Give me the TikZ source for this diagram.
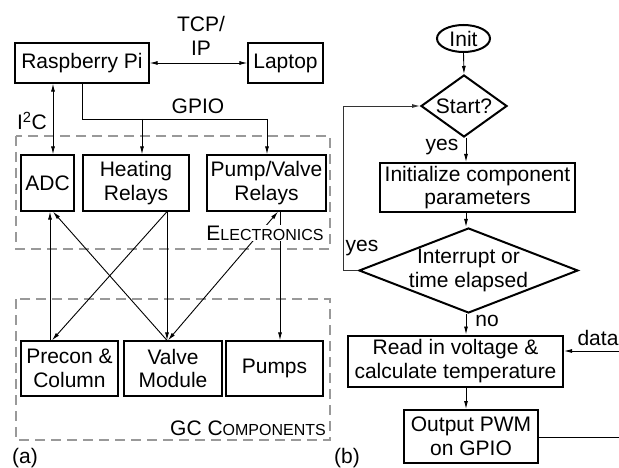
\documentclass[tikz,border=0pt]{standalone}
\usepackage{fontspec}
\setmainfont{Liberation Sans}
\usetikzlibrary{arrows.meta,shapes.geometric,calc}
\newcommand\fsz{\fontsize{21}{23.5}\selectfont}
\newcommand\fsm{\fontsize{16}{18}\selectfont}
\begin{document}
\begin{tikzpicture}[x=1pt,y=-1pt,
  every node/.style={font=\fsz, inner sep=0pt, align=center},
  boxa/.style={draw, line width=1.3pt, rectangle},
  boxb/.style={draw, line width=2pt, rectangle},
  arr/.style={line width=0.9pt, -{Latex[length=8pt,width=4pt]}},
  darr/.style={line width=0.9pt, {Latex[length=8pt,width=4pt]}-{Latex[length=8pt,width=4pt]}},
  ln/.style={line width=0.9pt},
  grp/.style={draw=black!40, line width=2.5pt, dash pattern=on 10pt off 6pt},
  lbl/.style={font=\fsz}
]
\useasboundingbox (0,0) rectangle (619,468);

% ---------- (a) ----------
\draw[grp] (16,136) rectangle (330,249);
\draw[grp] (16,299) rectangle (330,440);

\node[boxa, minimum width=134, minimum height=40] (rpi) at (82,63) {Raspberry Pi};
\node[boxa, minimum width=75, minimum height=40] (laptop) at (285.5,63) {Laptop};
\node[boxa, minimum width=53, minimum height=56] (adc) at (47.5,183) {ADC};
\node[boxa, minimum width=106, minimum height=56] (heat) at (136,183) {Heating\\Relays};
\node[boxa, minimum width=119, minimum height=56] (pvr) at (266.5,183) {Pump/Valve\\Relays};
\node[boxa, minimum width=97, minimum height=55] (precon) at (69.5,368.5) {Precon \&\\Column};
\node[boxa, minimum width=98, minimum height=55] (valve) at (173,368.5) {Valve\\Module};
\node[boxa, minimum width=97, minimum height=55] (pumps) at (274.5,368.5) {Pumps};

\node (tcp) at (201,36) {TCP/\\IP};
\node (gpio) at (198,106) {GPIO};
\node (i2c) at (32,121) {I\textsuperscript{2}C};

\draw[darr] (rpi.east) -- (laptop.west);
\draw[darr] (53,0 |- rpi.south) -- (53,0 |- adc.north);
\draw[ln] (82,0 |- rpi.south) |- (267,119) coordinate (gend);
\coordinate (gsplit) at (142,119);
\draw[arr] (gsplit) -- (142,0 |- heat.north);
\draw[arr] (gend) -- (267,0 |- pvr.north);

\draw[arr] (50,0 |- precon.north) -- (50,0 |- adc.south);
\draw[arr] (167,0 |- valve.north) -- (53,0 |- adc.south);
\draw[arr] (167,0 |- heat.south) -- (52,0 |- precon.north);
\draw[arr] (167,0 |- heat.south) -- (167,0 |- valve.north);
\draw[darr] (278,0 |- pvr.south) -- (168,0 |- valve.north);
\draw[arr] (280,0 |- pvr.south) -- (280,0 |- pumps.north);

\node[fill=white, inner sep=1pt] (elec) at (265,233) {E{\fsm LECTRONICS}};
\node (gcc) at (248,428) {GC C{\fsm OMPONENTS}};
\node[anchor=base] (la) at (25,463) {(a)};

% ---------- (b) ----------
\node[draw, ellipse, line width=2pt, minimum width=53, minimum height=27] (init) at (463.5,38.5) {Init};
\node[draw, diamond, line width=2pt, minimum width=86, minimum height=62, label=center:Start?] (start) at (464,106) {};
\node[boxb, minimum width=195, minimum height=49] (initp) at (477.5,187.5) {Initialize component\\parameters};
\node[draw, diamond, line width=2pt, minimum width=219, minimum height=85, label={[align=center]center:Interrupt or\\time elapsed}] (intr) at (468.5,270.5) {};
\node[boxb, minimum width=215, minimum height=51] (read) at (455.5,361) {Read in voltage \&\\calculate temperature};
\node[boxb, minimum width=134, minimum height=53] (out) at (471,436.5) {Output PWM\\on GPIO};

\draw[arr] (init.south) -- (start.north);
\draw[arr] (466,0 |- start.south) -- (466,0 |- initp.north);
\draw[arr] (466,0 |- initp.south) -- (466,0 |- intr.north);
\draw[arr] (466,0 |- intr.south) -- (466,0 |- read.north);
\draw[arr] (466,0 |- read.south) -- (466,0 |- out.north);
\draw[arr, draw=black!80] (intr.west) -- (343,0 |- intr.west) -- (343,0 |- start.west) -- (start.west);

\coordinate (din) at (619,351);
\draw[arr] (din) -- (read.east |- din);
\coordinate (dout) at (619,437);
\draw[ln] (out.east |- dout) -- (dout);

\node (yes1) at (442,147) {yes};
\node (yes2) at (362,248) {yes};
\node (no) at (487,321) {no};
\node (data) at (598,338) {data};
\node[anchor=base] (lb) at (347,463) {(b)};
\end{tikzpicture}
\end{document}
